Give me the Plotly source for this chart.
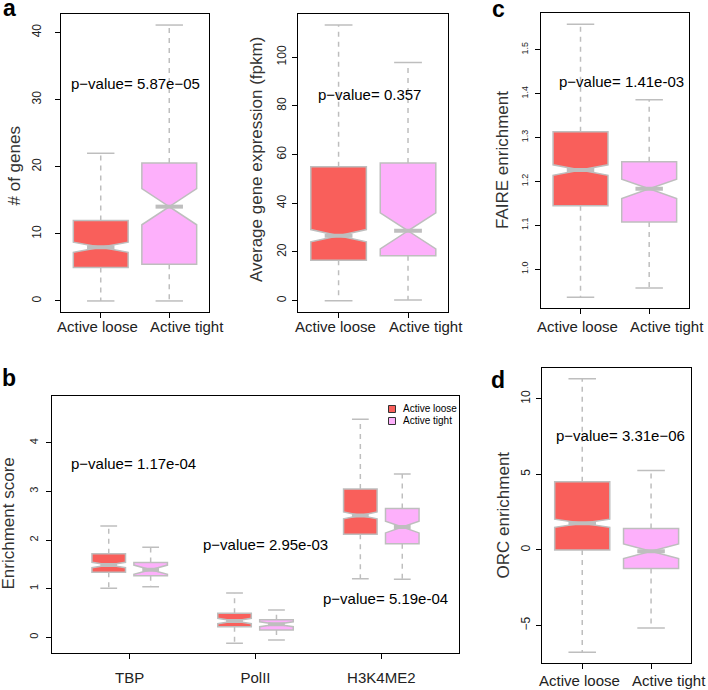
import plotly.graph_objects as go

W, H = 708, 690
FONT = "Liberation Sans, Arial, sans-serif"
RED = "#F95F5B"
PINK = "#FDB0FB"
GRAY = "#BEBEBE"
TXT = "#222222"

groups = ["Active loose", "Active tight"]

# ---- panel a (left): number of genes
genes_lower = [0.0, 0.0]
genes_q1 = [5.0, 5.45]
genes_median = [8.0, 14.05]
genes_q3 = [12.0, 20.55]
genes_upper = [22.0, 41.1]
genes_notch = [0.75, 2.7]

# ---- panel a (right): average gene expression
expr_lower = [0.0, 0.3]
expr_q1 = [16.6, 18.4]
expr_median = [26.7, 28.7]
expr_q3 = [55.0, 56.5]
expr_upper = [113.2, 97.8]
expr_notch = [2.5, 7.4]

# ---- panel c: FAIRE enrichment
faire_lower = [0.9355, 0.957]
faire_q1 = [1.1445, 1.1075]
faire_median = [1.2257, 1.183]
faire_q3 = [1.3128, 1.2445]
faire_upper = [1.558, 1.386]
faire_notch = [0.012, 0.022]

# ---- panel d: ORC enrichment
orc_lower = [-6.78, -5.17]
orc_q1 = [0.0, -1.23]
orc_median = [1.76, -0.09]
orc_q3 = [4.51, 1.41]
orc_upper = [11.33, 5.26]
orc_notch = [0.27, 0.48]

# ---- panel b: enrichment score per factor
factors = ["TBP", "PolII", "H3K4ME2"]
loose_lower = [1.007, -0.123, 1.205]
loose_q1 = [1.336, 0.218, 2.117]
loose_median = [1.486, 0.335, 2.507]
loose_q3 = [1.718, 0.493, 3.048]
loose_upper = [2.288, 0.91, 4.487]
loose_notch = [0.055, 0.055, 0.07]
tight_lower = [1.04, -0.055, 1.192]
tight_q1 = [1.266, 0.15, 1.924]
tight_median = [1.39, 0.267, 2.267]
tight_q3 = [1.54, 0.362, 2.651]
tight_upper = [1.85, 0.561, 3.357]
tight_notch = [0.095, 0.05, 0.12]

pvals_a = ["p\u2212value= 5.87e\u221205", "p\u2212value= 0.357"]
pval_c = "p\u2212value= 1.41e-03"
pval_d = "p\u2212value= 3.31e\u221206"
pvals_b = ["p\u2212value= 1.17e-04", "p\u2212value= 2.95e-03", "p\u2212value= 5.19e-04"]

BOXW = 0.8
fig = go.Figure()


def ax(i):
    return ("x" if i == 1 else f"x{i}"), ("y" if i == 1 else f"y{i}")


def add_box(i, pos, lo, q1, md, q3, up, nt, color):
    xa, ya = ax(i)
    fig.add_trace(go.Box(
        x=[pos], q1=[q1], median=[md], q3=[q3], lowerfence=[q1], upperfence=[q3],
        notchspan=[nt], notched=True, notchwidth=0.5, width=BOXW, whiskerwidth=0,
        fillcolor=color, line=dict(color=GRAY, width=1.5), boxpoints=False,
        xaxis=xa, yaxis=ya, showlegend=False, hoverinfo="skip"))
    hw = BOXW / 4
    fig.add_trace(go.Scatter(
        x=[pos, pos, None, pos, pos], y=[q3, up, None, q1, lo], mode="lines",
        line=dict(color=GRAY, width=1.5, dash="5px,5px"),
        xaxis=xa, yaxis=ya, showlegend=False, hoverinfo="skip"))
    fig.add_trace(go.Scatter(
        x=[pos - hw, pos + hw, None, pos - hw, pos + hw], y=[up, up, None, lo, lo],
        mode="lines", line=dict(color=GRAY, width=1.5),
        xaxis=xa, yaxis=ya, showlegend=False, hoverinfo="skip"))
    fig.add_trace(go.Scatter(
        x=[pos - hw, pos + hw], y=[md, md], mode="lines",
        line=dict(color=GRAY, width=4),
        xaxis=xa, yaxis=ya, showlegend=False, hoverinfo="skip"))


colors = [RED, PINK]
two_panels = [
    (1, genes_lower, genes_q1, genes_median, genes_q3, genes_upper, genes_notch),
    (2, expr_lower, expr_q1, expr_median, expr_q3, expr_upper, expr_notch),
    (3, faire_lower, faire_q1, faire_median, faire_q3, faire_upper, faire_notch),
    (5, orc_lower, orc_q1, orc_median, orc_q3, orc_upper, orc_notch),
]
for i, lo, q1, md, q3, up, nt in two_panels:
    for k in range(2):
        add_box(i, k + 1, lo[k], q1[k], md[k], q3[k], up[k], nt[k], colors[k])

for j in range(3):
    add_box(4, 3 * j + 1, loose_lower[j], loose_q1[j], loose_median[j], loose_q3[j],
            loose_upper[j], loose_notch[j], RED)
    add_box(4, 3 * j + 2, tight_lower[j], tight_q1[j], tight_median[j], tight_q3[j],
            tight_upper[j], tight_notch[j], PINK)


def rng(lo, up):
    a, b = min(lo), max(up)
    p = 0.04 * (b - a)
    return [a - p, b + p]


def dom(x0, x1, y0, y1):
    return [x0 / W, x1 / W], [1 - y1 / H, 1 - y0 / H]


base = dict(showline=True, linecolor="black", linewidth=1, mirror=True, ticks="outside",
            ticklen=5, tickcolor="black", showgrid=False, zeroline=False, automargin=False)

panels = {
    1: dict(box=(61, 209, 14, 312), xr=[0.42, 2.58], yr=rng(genes_lower, genes_upper),
            dtick=10, tv=[1, 2], tt=groups, yfs=12, ystand=9, fmt=None, laby=327),
    2: dict(box=(298.3, 448.3, 14, 311.7), xr=[0.42, 2.58], yr=rng(expr_lower, expr_upper),
            dtick=20, tv=[1, 2], tt=groups, yfs=12, ystand=2, fmt=None, laby=327),
    3: dict(box=(540.7, 689, 13.3, 308.3), xr=[0.42, 2.58], yr=rng(faire_lower, faire_upper),
            dtick=0.1, tv=[1, 2], tt=groups, yfs=9, ystand=3, fmt=".1f", laby=327),
    4: dict(box=(51.7, 459.3, 395.7, 653.3), xr=[-0.36, 9.36], yr=[-0.33, 4.97],
            dtick=1, tv=[1.5, 4.5, 7.5], tt=factors, yfs=11, ystand=3, fmt=None, laby=None),
    5: dict(box=(542.3, 691, 367.7, 663.3), xr=[0.42, 2.58], yr=rng(orc_lower, orc_upper),
            dtick=5, tv=[1, 2], tt=groups, yfs=12, ystand=2, fmt=None, laby=680),
}

lay = {}
ann = []
for i, p in panels.items():
    xd, yd = dom(*p["box"])
    xn = "xaxis" if i == 1 else f"xaxis{i}"
    yn = "yaxis" if i == 1 else f"yaxis{i}"
    xa, ya = ax(i)
    lay[xn] = dict(base, domain=xd, range=p["xr"], anchor=ya, tickmode="array",
                   tickvals=p["tv"], ticktext=p["tt"], ticklabelstandoff=6, tickangle=0,
                   showticklabels=p["laby"] is None,
                   tickfont=dict(family=FONT, size=15, color=TXT))
    yd_ = dict(base, domain=yd, range=p["yr"], anchor=xa, dtick=p["dtick"], tick0=0,
               tickangle=-90, ticklabelstandoff=p["ystand"],
               tickfont=dict(family=FONT, size=p["yfs"], color=TXT))
    if p["fmt"]:
        yd_["tickformat"] = p["fmt"]
    lay[yn] = yd_
    if p["laby"] is not None:
        # group labels under the two boxes (as placed in the original figure)
        for tv, tt, off in zip(p["tv"], p["tt"], [-0.045, 0.26]):
            ann.append(dict(x=tv + off, y=1 - p["laby"] / H, xref=xa, yref="paper",
                            text=tt, showarrow=False, xanchor="center", yanchor="middle",
                            font=dict(family=FONT, size=15, color=TXT)))


def txt(i, x, y, s, size=15):
    xa, ya = ax(i)
    ann.append(dict(x=x, y=y, xref=xa, yref=ya, text=s, showarrow=False,
                    xanchor="center", yanchor="middle",
                    font=dict(family=FONT, size=size, color="black")))


txt(1, 1.51, 32.4, pvals_a[0])
txt(2, 1.45, 84.5, pvals_a[1])
txt(3, 1.59, 1.428, pval_c)
txt(5, 1.56, 7.59, pval_d)
txt(4, 1.6, 3.58, pvals_b[0])
txt(4, 4.74, 1.9, pvals_b[1])
txt(4, 7.59, 0.80, pvals_b[2])

titles = [("# of genes", 13.5, 166), ("Average gene expression (fpkm)", 256, 160),
          ("FAIRE enrichment", 502, 160), ("Enrichment score", 7.5, 524),
          ("ORC enrichment", 502.5, 515)]
for s, px, py in titles:
    ann.append(dict(x=px / W, y=1 - py / H, xref="paper", yref="paper", text=s,
                    textangle=-90, showarrow=False, xanchor="center", yanchor="middle",
                    font=dict(family=FONT, size=17, color="#333333")))

for s, px, py in [("a", 9, 8), ("b", 9, 378), ("c", 498, 9), ("d", 498, 380)]:
    ann.append(dict(x=px / W, y=1 - py / H, xref="paper", yref="paper", text=f"<b>{s}</b>",
                    showarrow=False, xanchor="center", yanchor="middle",
                    font=dict(family=FONT, size=23, color="black")))

# legend of panel b
shapes = []
for k, (s, c) in enumerate(zip(groups, colors)):
    cy = 409 + 12 * k
    shapes.append(dict(type="rect", xref="paper", yref="paper",
                       x0=388.5 / W, x1=395.5 / W, y0=1 - (cy + 3.5) / H, y1=1 - (cy - 3.5) / H,
                       fillcolor=c, line=dict(color="#333333", width=1)))
    ann.append(dict(x=401 / W, y=1 - cy / H, xref="paper", yref="paper", text=s,
                    xanchor="left", yanchor="middle", showarrow=False,
                    font=dict(family=FONT, size=10, color="black")))

fig.update_layout(width=W, height=H, autosize=False, margin=dict(l=0, r=0, t=0, b=0),
                  paper_bgcolor="white", plot_bgcolor="white", showlegend=False,
                  annotations=ann, shapes=shapes, **lay)

fig.write_html("out.html", config={"displayModeBar": False},
               post_script="document.body.style.margin='0';document.body.style.overflow='hidden';")
